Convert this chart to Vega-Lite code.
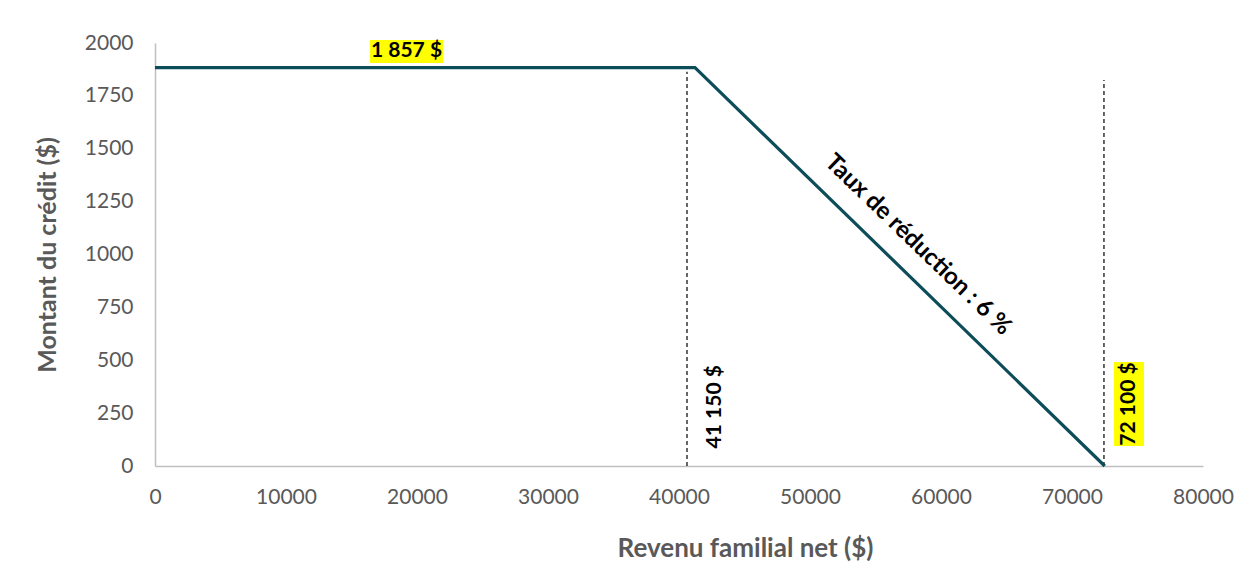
{
  "$schema": "https://vega.github.io/schema/vega-lite/v6.json",
  "width": 1048,
  "height": 423,
  "autosize": {"type": "none"},
  "padding": {"left": 155, "top": 43, "right": 50, "bottom": 114},
  "background": "white",
  "config": {
    "view": {"stroke": null},
    "font": "Lato",
    "axis": {
      "grid": false,
      "ticks": false,
      "domainColor": "#bfbfbf",
      "domainWidth": 1.5,
      "labelColor": "#595959",
      "labelFontSize": 21,
      "labelFont": "Lato",
      "labelFlush": false,
      "titleFont": "Lato",
      "titleFontSize": 26,
      "titleFontWeight": "bold",
      "titleColor": "#595959"
    }
  },
  "datasets": {
    "curve": [
      {"revenu": 0, "credit": 1884},
      {"revenu": 41220, "credit": 1884},
      {"revenu": 72500, "credit": 0}
    ],
    "seuils": [
      {"revenu": 40610, "bas": 0, "haut": 1864},
      {"revenu": 72440, "bas": 0, "haut": 1825}
    ],
    "boites": [
      {"x1": 16400, "x2": 21990, "y1": 1905, "y2": 2014},
      {"x1": 73200, "x2": 75500, "y1": 95, "y2": 492}
    ],
    "etiquettes": [
      {"revenu": 19200, "credit": 1960, "texte": "1 857 $", "angle": 0, "taille": 21},
      {"revenu": 42750, "credit": 280, "texte": "41 150 $", "angle": 270, "taille": 21},
      {"revenu": 74350, "credit": 293, "texte": "72 100 $", "angle": 270, "taille": 21},
      {"revenu": 58240, "credit": 1045, "texte": "Taux de réduction : 6 %", "angle": 44, "taille": 24}
    ]
  },
  "layer": [
    {
      "data": {"name": "boites"},
      "mark": {"type": "rect", "color": "#ffff00"},
      "encoding": {
        "x": {"field": "x1", "type": "quantitative", "scale": {"domain": [0, 80000], "nice": false}},
        "x2": {"field": "x2"},
        "y": {"field": "y1", "type": "quantitative", "scale": {"domain": [0, 2000], "nice": false}},
        "y2": {"field": "y2"}
      }
    },
    {
      "data": {"name": "seuils"},
      "mark": {"type": "rule", "color": "#000000", "strokeWidth": 1.2, "strokeDash": [4, 3]},
      "encoding": {
        "x": {"field": "revenu", "type": "quantitative"},
        "y": {"field": "bas", "type": "quantitative"},
        "y2": {"field": "haut"}
      }
    },
    {
      "data": {"name": "curve"},
      "mark": {"type": "line", "color": "#0d4d5a", "strokeWidth": 3.2},
      "encoding": {
        "x": {
          "field": "revenu",
          "type": "quantitative",
          "title": "Revenu familial net ($)",
          "axis": {"values": [0, 10000, 20000, 30000, 40000, 50000, 60000, 70000, 80000], "format": "d", "labelPadding": 20, "titlePadding": 28, "titleX": 590}
        },
        "y": {
          "field": "credit",
          "type": "quantitative",
          "title": "Montant du crédit ($)",
          "axis": {"values": [0, 250, 500, 750, 1000, 1250, 1500, 1750, 2000], "format": "d", "labelPadding": 22, "titlePadding": 24, "titleFontSize": 25}
        }
      }
    },
    {
      "data": {"name": "etiquettes"},
      "mark": {"type": "text", "fontWeight": "bold", "color": "#000000", "align": "center", "baseline": "middle", "font": "Lato"},
      "encoding": {
        "x": {"field": "revenu", "type": "quantitative"},
        "y": {"field": "credit", "type": "quantitative"},
        "text": {"field": "texte"},
        "angle": {"field": "angle", "type": "quantitative", "scale": null},
        "size": {"field": "taille", "type": "quantitative", "scale": null}
      }
    }
  ]
}
